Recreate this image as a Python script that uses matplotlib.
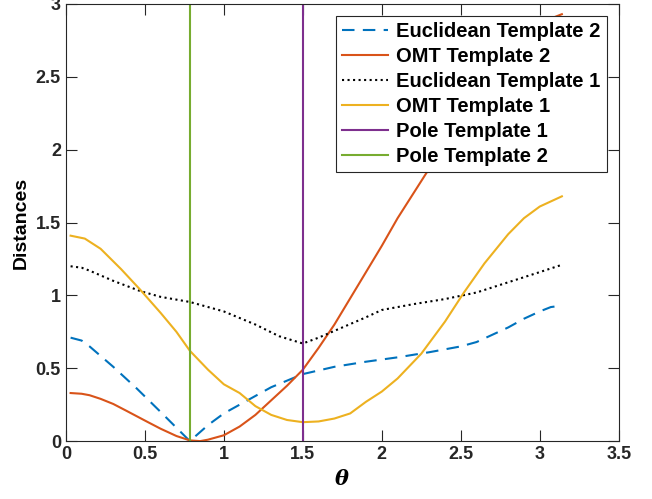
import numpy as np
import matplotlib
matplotlib.use('Agg')
from matplotlib import pyplot as plt

plt.rcParams['font.family'] = ['Liberation Sans', 'DejaVu Sans']
plt.rcParams['font.weight'] = 'bold'

# Euclidean Template 2
x_euc2 = [0.03, 0.1, 0.15, 0.3, 0.45, 0.6, 0.785, 0.9, 1.0, 1.15, 1.3, 1.5, 1.7, 1.9, 2.1, 2.3, 2.5, 2.6, 2.7, 2.8, 2.9, 3.0, 3.07, 3.14]
y_euc2 = [0.71, 0.69, 0.65, 0.51, 0.36, 0.2, 0.0, 0.11, 0.19, 0.28, 0.37, 0.46, 0.51, 0.545, 0.575, 0.61, 0.65, 0.68, 0.73, 0.78, 0.84, 0.89, 0.92, 0.93]

# OMT Template 2
x_omt2 = [0.03, 0.1, 0.15, 0.22, 0.3, 0.38, 0.45, 0.52, 0.6, 0.7, 0.785, 0.85, 0.9, 1.0, 1.1, 1.2, 1.3, 1.4, 1.5, 1.6, 1.7, 1.8, 1.9, 2.0,
          2.1, 2.2, 2.3, 2.4, 2.5, 2.6, 2.7, 2.8, 2.9, 3.0, 3.07, 3.14]
y_omt2 = [0.33, 0.325, 0.315, 0.29, 0.255, 0.21, 0.17, 0.13, 0.085, 0.035, 0.005, 0.0, 0.01, 0.04, 0.10, 0.18, 0.28, 0.38, 0.49, 0.64, 0.80, 0.98, 1.16, 1.34,
          1.53, 1.70, 1.87, 2.03, 2.2, 2.35, 2.5, 2.63, 2.74, 2.84, 2.9, 2.93]

# Euclidean Template 1
x_euc1 = [0.03, 0.1, 0.15, 0.3, 0.47, 0.6, 0.785, 1.0, 1.2, 1.35, 1.5, 1.6, 1.75, 1.9, 2.0, 2.2, 2.4, 2.6, 2.8, 3.0, 3.14]
y_euc1 = [1.20, 1.19, 1.17, 1.10, 1.03, 0.99, 0.955, 0.89, 0.80, 0.72, 0.67, 0.71, 0.78, 0.85, 0.90, 0.94, 0.975, 1.02, 1.09, 1.16, 1.21]

# OMT Template 1
x_omt1 = [0.03, 0.12, 0.22, 0.35, 0.47, 0.6, 0.7, 0.785, 0.9, 1.0, 1.1, 1.2, 1.3, 1.4, 1.5, 1.6, 1.7, 1.8, 1.9, 2.0,
          2.1, 2.25, 2.4, 2.52, 2.65, 2.8, 2.9, 3.0, 3.08, 3.14]
y_omt1 = [1.41, 1.39, 1.32, 1.18, 1.04, 0.88, 0.75, 0.62, 0.49, 0.39, 0.33, 0.24, 0.18, 0.145, 0.13, 0.135, 0.155, 0.19, 0.27, 0.34,
          0.43, 0.60, 0.82, 1.02, 1.22, 1.42, 1.53, 1.61, 1.65, 1.68]

pole1 = 1.5
pole2 = np.pi / 4

fig = plt.figure(figsize=(6.52, 4.99), dpi=100)
ax = fig.add_axes([0.101, 0.116, 0.848, 0.876])

ax.plot(x_euc2, y_euc2, '--', color='#0072BD', lw=1.5, dashes=(6, 4), label='Euclidean Template 2')
ax.plot(x_omt2, y_omt2, '-', color='#D95319', lw=1.5, label='OMT Template 2')
ax.plot(x_euc1, y_euc1, ':', color='black', lw=1.5, label='Euclidean Template 1')
ax.plot(x_omt1, y_omt1, '-', color='#EDB120', lw=1.5, label='OMT Template 1')
ax.axvline(pole1, color='#7E2F8E', lw=1.5, label='Pole Template 1')
ax.axvline(pole2, color='#77AC30', lw=1.5, label='Pole Template 2')

ax.set_xlim(0, 3.5)
ax.set_ylim(0, 3)
ax.set_xticks(np.arange(0, 3.51, 0.5))
ax.set_xticklabels(['0', '0.5', '1', '1.5', '2', '2.5', '3', '3.5'])
ax.set_yticks(np.arange(0, 3.01, 0.5))
ax.set_yticklabels(['0', '0.5', '1', '1.5', '2', '2.5', '3'])
ax.tick_params(direction='in', top=True, right=True, length=8, width=0.8,
               colors='#262626', labelsize=13, labelcolor='#262626')
for s in ax.spines.values():
    s.set_color('#262626')
    s.set_linewidth(0.8)

ax.set_xlabel('θ', fontsize=15, fontstyle='italic', fontweight='bold', family=['DejaVu Serif'])
ax.set_ylabel('Distances', fontsize=14, fontweight='bold')

leg = ax.legend(loc='upper right', fontsize=14.5, fancybox=False, framealpha=1,
                edgecolor='#262626', handlelength=2.3, borderaxespad=0.6,
                labelspacing=0.3, borderpad=0.3, handletextpad=0.4)
leg.get_frame().set_linewidth(0.8)

fig.savefig('out.png', dpi=100)
